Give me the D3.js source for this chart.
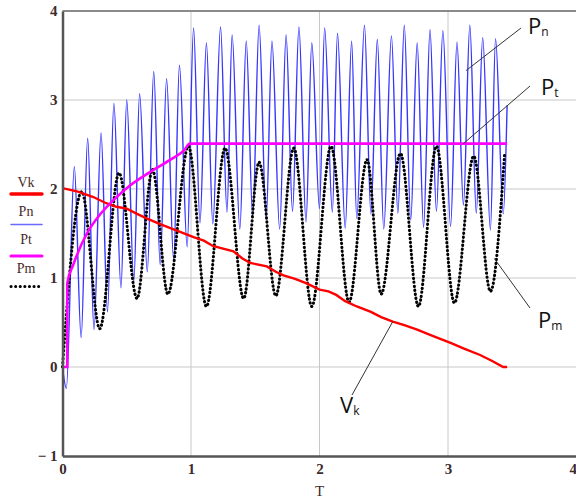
<!DOCTYPE html>
<html><head><meta charset="utf-8">
<script src="https://cdn.jsdelivr.net/npm/d3@7"></script>
<style>html,body{margin:0;padding:0;background:#fff;overflow:hidden}</style>
</head><body>
<svg id="c" width="576" height="500"></svg>
<script>
// ---- data ----
const xTicks = [0, 1, 2, 3, 4];
const yTicks = [-1, 0, 1, 2, 3, 4];
const legendNames = ["Vk", "Pn", "Pt", "Pm"];

// Pn: alternating extremes (T, value)
const pnData = [[0,0],[0.03,-0.24],[0.092,2.25],[0.145,0.33],[0.196,2.57],[0.245,0.42],[0.30,2.63],
 [0.35,0.62],[0.40,2.96],[0.455,0.89],[0.50,3.0],[0.555,0.96],[0.60,3.07],[0.66,1.07],[0.71,3.32],
 [0.76,1.15],[0.81,3.24],[0.865,1.2],[0.91,3.39],[0.97,1.35],[1.02,3.81],[1.07,1.62],[1.12,3.64],
 [1.17,1.61],[1.23,3.82],[1.28,1.74],[1.32,3.73],[1.38,1.55],[1.43,3.66],[1.48,1.69],[1.53,3.84],
 [1.585,1.66],[1.63,3.66],[1.69,1.55],[1.74,3.73],[1.79,1.75],[1.84,3.82],[1.895,1.63],[1.94,3.64],
 [2.0,1.78],[2.04,3.81],[2.10,1.74],[2.14,3.75],[2.20,1.56],[2.25,3.66],[2.29,1.67],[2.35,3.84],
 [2.40,1.72],[2.45,3.68],[2.50,1.55],[2.56,3.72],[2.61,1.73],[2.66,3.84],[2.71,1.65],[2.76,3.64],
 [2.81,1.57],[2.86,3.79],[2.91,1.75],[2.96,3.78],[3.02,1.58],[3.07,3.65],[3.12,1.82],[3.17,3.84],
 [3.22,1.73],[3.27,3.70],[3.33,1.54],[3.37,3.69],[3.43,1.72],[3.46,2.94]];

// Pm: alternating extremes
const pmData = [[0,0],[0.15,1.97],[0.29,0.43],[0.44,2.18],[0.58,0.77],[0.70,2.22],[0.82,0.82],
 [0.98,2.48],[1.12,0.68],[1.265,2.46],[1.41,0.77],[1.53,2.30],[1.66,0.80],[1.80,2.46],[1.94,0.68],
 [2.09,2.48],[2.23,0.73],[2.37,2.33],[2.48,0.82],[2.63,2.40],[2.77,0.68],[2.91,2.48],[3.05,0.72],
 [3.20,2.37],[3.33,0.85],[3.44,2.38]];

// Pt
const ptData = [[0,0],[0.037,0],[0.037,0.94],[0.084,1.15],[0.19,1.50],[0.29,1.71],[0.40,1.88],
 [0.525,2.04],[0.68,2.19],[0.84,2.33],[0.95,2.44],[0.99,2.51],[3.46,2.51]];

// Vk
const vkData = [[0,2.01],[0.12,1.97],[0.24,1.91],[0.34,1.84],[0.42,1.80],[0.50,1.78],[0.58,1.72],
 [0.655,1.67],[0.75,1.61],[0.84,1.56],[0.93,1.51],[1.02,1.46],[1.10,1.42],[1.17,1.36],[1.25,1.33],
 [1.33,1.30],[1.40,1.22],[1.46,1.17],[1.59,1.13],[1.66,1.07],[1.72,1.03],[1.81,0.99],[1.90,0.94],
 [2.0,0.87],[2.07,0.85],[2.13,0.81],[2.20,0.74],[2.29,0.68],[2.40,0.62],[2.48,0.56],[2.57,0.51],
 [2.66,0.47],[2.76,0.42],[2.88,0.35],[3.02,0.27],[3.12,0.21],[3.25,0.135],[3.34,0.07],[3.43,0.0],[3.46,0.0]];

// annotation labels
const annoMain = ["P", "P", "P", "V"];
const annoSub = ["n", "t", "m", "k"];

// ---- drawing ----
const serif = "'Liberation Serif', 'DejaVu Serif', 'Times New Roman', serif";
const svg = d3.select("#c");
const x = d3.scaleLinear().domain([0, 4]).range([62.5, 576.5]);
const y = d3.scaleLinear().domain([-1, 4]).range([456, 11]);

// grid
const g = svg.append("g");
g.selectAll(".gx").data(xTicks.slice(1)).join("line")
  .attr("x1", d => x(d)).attr("x2", d => x(d)).attr("y1", y(4)).attr("y2", y(-1))
  .attr("stroke", "#c8c8c8").attr("stroke-width", 1);
g.selectAll(".gy").data(yTicks.slice(1)).join("line")
  .attr("x1", x(0)).attr("x2", x(4)).attr("y1", d => y(d)).attr("y2", d => y(d))
  .attr("stroke", "#c8c8c8").attr("stroke-width", 1);
// top border
g.append("line").attr("x1", x(0)).attr("x2", 576).attr("y1", y(4)).attr("y2", y(4))
  .attr("stroke", "#8a8a8a").attr("stroke-width", 2);

const mk = (curve) => d3.line().x(d => x(d[0])).y(d => y(d[1])).curve(curve);

// Pn
svg.append("path").attr("d", mk(d3.curveMonotoneX)(pnData))
  .attr("fill", "none").attr("stroke", "#3535ff").attr("stroke-width", 1.4);
// Pm
svg.append("path").attr("d", mk(d3.curveMonotoneX)(pmData))
  .attr("fill", "none").attr("stroke", "#000").attr("stroke-width", 3)
  .attr("stroke-dasharray", "0.4,3.6").attr("stroke-linecap", "round");
// Vk
svg.append("path").attr("d", mk(d3.curveLinear)(vkData))
  .attr("fill", "none").attr("stroke", "#ff0000").attr("stroke-width", 2.4);
// Pt
svg.append("path").attr("d", mk(d3.curveMonotoneX)(ptData))
  .attr("fill", "none").attr("stroke", "#ff00ff").attr("stroke-width", 2.6);

// axes
const tickColor = "#3b2b2b";
const ax = svg.append("g").attr("transform", `translate(0,${y(-1)})`)
  .call(d3.axisBottom(x).tickValues(xTicks).tickSize(0).tickPadding(7).tickFormat(d => String(d)));
ax.attr("font-family", serif);
ax.select(".domain").attr("stroke", "#555").attr("stroke-width", 2.5);
ax.selectAll("text").style("font-family", serif).attr("font-size", 15)
  .attr("font-weight", "bold").attr("fill", tickColor)
  .attr("text-anchor", d => d === 4 ? "end" : "middle");
const ay = svg.append("g").attr("transform", `translate(${x(0)},0)`)
  .call(d3.axisLeft(y).tickValues(yTicks).tickSize(0).tickPadding(5)
  .tickFormat(d => d < 0 ? "\u2212 1" : String(d)));
ay.attr("font-family", serif);
ay.select(".domain").attr("stroke", "#555").attr("stroke-width", 2.5);
ay.selectAll("text").style("font-family", serif).attr("font-size", 15)
  .attr("font-weight", "bold").attr("fill", tickColor);
svg.append("text").attr("x", x(2)).attr("y", 496).attr("text-anchor", "middle")
  .style("font-family", serif).attr("font-size", 15).attr("fill", tickColor).text("T");

// legend
const legStyles = [
  {stroke: "#ff0000", w: 3.5, dash: null, dy: 7},
  {stroke: "#6a6aff", w: 1.5, dash: null, dy: 9},
  {stroke: "#ff00ff", w: 3, dash: null, dy: 12},
  {stroke: "#000", w: 3, dash: "0.1,4.5", dy: 14}
];
const lg = svg.append("g");
legendNames.forEach((n, i) => {
  const ty = 187 + i * 28.5;
  lg.append("text").attr("x", 26).attr("y", ty).attr("text-anchor", "middle")
    .style("font-family", serif).attr("font-size", 14).attr("fill", "#4a2a2a").text(n);
  const s = legStyles[i];
  const l = lg.append("line").attr("x1", 11).attr("x2", 42).attr("y1", ty + s.dy).attr("y2", ty + s.dy)
    .attr("stroke", s.stroke).attr("stroke-width", s.w).attr("stroke-linecap", "round");
  if (s.dash) l.attr("stroke-dasharray", s.dash);
});

// annotations with leader lines (anchored on data points)
const annoAnchors = [[3.14, 3.33], [3.12, 2.51], [3.36, 1.22], [2.57, 0.51]];
const annoPos = [[528, 34, 521, 28], [541, 95, 530, 86], [538, 328, 530, 308], [340, 413, 352, 395]];
annoMain.forEach((m, i) => {
  const a = annoAnchors[i], p = annoPos[i];
  svg.append("line").attr("x1", x(a[0])).attr("y1", y(a[1])).attr("x2", p[2]).attr("y2", p[3])
    .attr("stroke", "#333").attr("stroke-width", 1);
  const t = svg.append("text").attr("x", p[0]).attr("y", p[1])
    .style("font-family", "'Open Sans', sans-serif").attr("font-size", 22).attr("fill", "#111");
  t.append("tspan").text(m);
  t.append("tspan").attr("font-size", 12).attr("dy", 2).text(annoSub[i]);
});
</script>
</body></html>
